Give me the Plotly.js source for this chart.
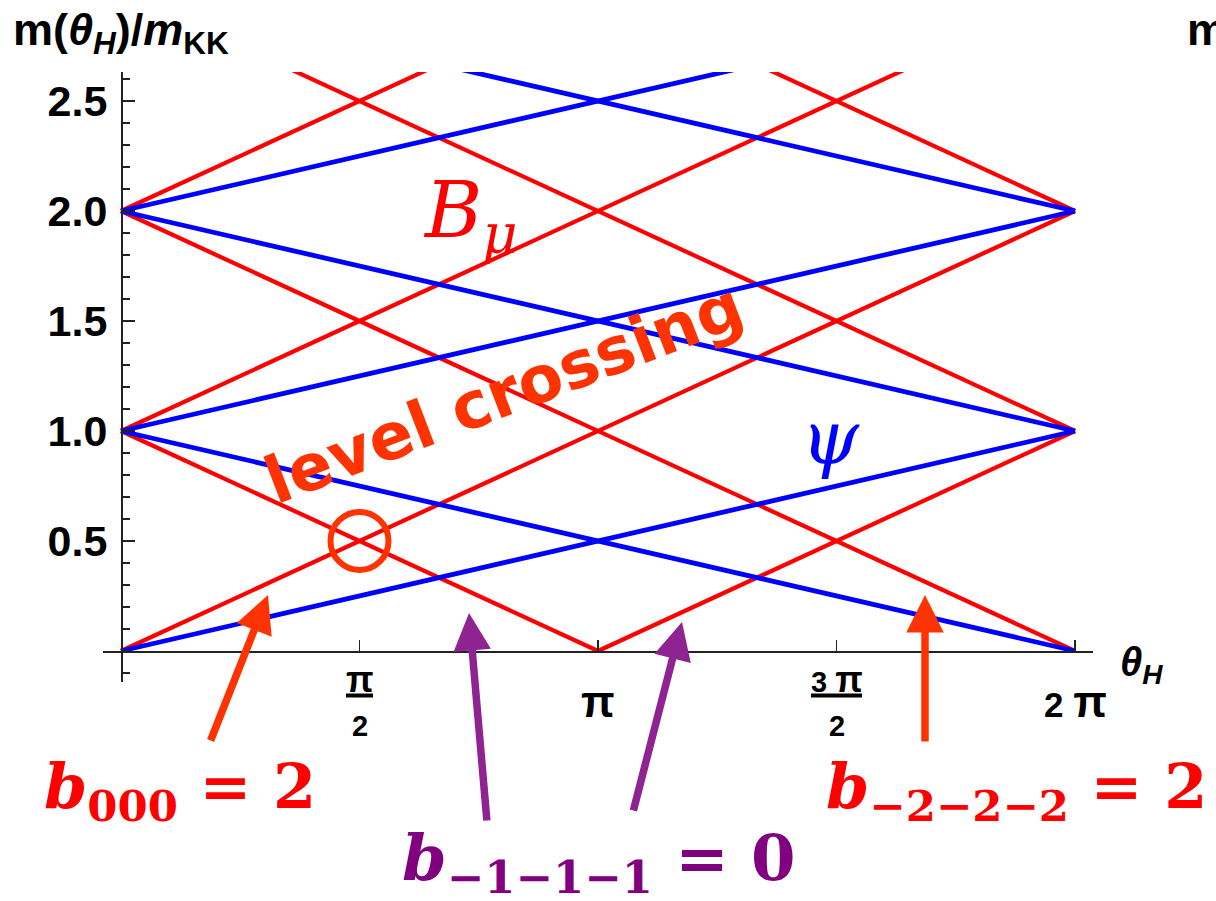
<!DOCTYPE html>
<html><head><meta charset="utf-8">
<script src="https://cdn.plot.ly/plotly-3.0.1.min.js"></script>
<style>html,body{margin:0;padding:0;background:#fff}</style>
</head><body><div id="chart" style="width:1216px;height:901px"></div>
<script>
// θ_H expressed in units of π ; mass in units of m_KK
const redTheta0 = [0, 0, 1, 0, 0, 0, 0, 0];
const redTheta1 = [2, 1, 2, 2, 2, 2, 2, 2];
const redMass0  = [0, 1, 0, 2, 1, 3, 2, 4];
const redMass1  = [2, 0, 1, 0, 3, 1, 4, 2];

const blueTheta0 = [0, 0, 0, 0, 0, 0];
const blueTheta1 = [2, 2, 2, 2, 2, 2];
const blueMass0  = [0, 1, 1, 2, 2, 3];
const blueMass1  = [1, 0, 2, 1, 3, 2];

const xTickVals = [0.5, 1, 1.5, 2];
const xTickNum  = ['π', 'π', '3 π', '2 π'];
const xTickDen  = ['2', '', '2', ''];
const yTickVals = [0.5, 1, 1.5, 2, 2.5];
const yTickText = ['0.5', '1.0', '1.5', '2.0', '2.5'];

function segs(x0, x1, y0, y1) {
  const xs = [], ys = [];
  for (let i = 0; i < x0.length; i++) { xs.push(x0[i], x1[i], null); ys.push(y0[i], y1[i], null); }
  return {x: xs, y: ys};
}
const R = segs(redTheta0, redTheta1, redMass0, redMass1);
const B = segs(blueTheta0, blueTheta1, blueMass0, blueMass1);

const traces = [
  {type: 'scatter', mode: 'lines', x: R.x, y: R.y, line: {color: '#ff0000', width: 4.2}, hoverinfo: 'skip', showlegend: false},
  {type: 'scatter', mode: 'lines', x: B.x, y: B.y, line: {color: '#0000ff', width: 4.8}, hoverinfo: 'skip', showlegend: false}
];

// plot area in pixels: left 103, right 1093, top 72, bottom 682
const L = 103, W = 990, T = 72, H = 610;
const PX = p => (p - L) / W;
const PY = p => (T + H - p) / H;

const xr = [-0.0377, 2.0377];
const yr = [-0.141, 2.632];

const sansB = {family: 'Liberation Sans, Arial, sans-serif', color: '#000', weight: 'bold'};
const ann = [];
const shapes = [];

function piBig(s, size) {
  return s.replace('π', '<span style="font-size:' + size + 'px">π</span>');
}

// x tick labels
xTickVals.forEach((v, i) => {
  const xp = PX(121 + v * 477);
  if (xTickDen[i]) {
    ann.push({xref: 'paper', yref: 'paper', x: xp, y: PY(679), xanchor: 'center', yanchor: 'middle',
      text: '<b>' + piBig(xTickNum[i], 36) + '</b>', showarrow: false, font: Object.assign({}, sansB, {size: 29})});
    ann.push({xref: 'paper', yref: 'paper', x: xp, y: PY(726), xanchor: 'center', yanchor: 'middle',
      text: '<b>' + xTickDen[i] + '</b>', showarrow: false, font: Object.assign({}, sansB, {size: 29})});
    const hw = xTickNum[i].length > 1 ? 25.5 : 13.5;
    shapes.push({type: 'line', xref: 'paper', yref: 'paper', x0: xp - hw / W, x1: xp + hw / W, y0: PY(695.5), y1: PY(695.5),
      line: {color: '#000', width: 4}});
  } else {
    ann.push({xref: 'paper', yref: 'paper', x: xp, y: PY(701), xanchor: 'center', yanchor: 'middle',
      text: '<b>' + piBig(xTickNum[i], 44) + '</b>', showarrow: false, font: Object.assign({}, sansB, {size: 35})});
  }
});

// axis titles
ann.push({xref: 'paper', yref: 'paper', x: PX(11), y: PY(33), xanchor: 'left', yanchor: 'middle',
  text: '<b>m(<i>θ</i><sub><i>H</i></sub>)/<i>m</i><sub>KK</sub></b>', showarrow: false,
  font: Object.assign({}, sansB, {size: 45})});
ann.push({xref: 'paper', yref: 'paper', x: PX(1185), y: PY(30), xanchor: 'left', yanchor: 'middle',
  text: '<b>m</b>', showarrow: false, font: Object.assign({}, sansB, {size: 45})});
ann.push({xref: 'paper', yref: 'paper', x: PX(1118), y: PY(665), xanchor: 'left', yanchor: 'middle',
  text: '<b><i>θ</i><sub><i>H</i></sub></b>', showarrow: false, font: Object.assign({}, sansB, {size: 40})});

// labels in plot
ann.push({xref: 'paper', yref: 'paper', x: PX(470), y: PY(216), xanchor: 'center', yanchor: 'middle',
  text: '<i>B</i><sub><i>μ</i></sub>', showarrow: false,
  font: {family: 'DejaVu Serif, serif', size: 78, color: '#ff0000'}});
ann.push({xref: 'paper', yref: 'paper', x: PX(830), y: PY(437), xanchor: 'center', yanchor: 'middle',
  text: '<i>ψ</i>', showarrow: false,
  font: {family: 'DejaVu Serif, serif', size: 74, color: '#0000ff'}});
ann.push({xref: 'paper', yref: 'paper', x: PX(503), y: PY(393), xanchor: 'center', yanchor: 'middle',
  text: 'level crossing', textangle: -21, showarrow: false,
  font: {family: 'Comic Sans MS, DejaVu Sans, sans-serif', size: 65, color: '#ff3300', weight: 'bold'}});

// b labels
const serifB = {family: 'DejaVu Serif, serif', size: 62, weight: 'bold'};
ann.push({xref: 'paper', yref: 'paper', x: PX(180), y: PY(790), xanchor: 'center', yanchor: 'middle',
  text: '<i>b</i><sub>000</sub> = 2', showarrow: false, font: Object.assign({}, serifB, {color: '#ff0000'})});
ann.push({xref: 'paper', yref: 'paper', x: PX(599), y: PY(862), xanchor: 'center', yanchor: 'middle',
  text: '<i>b</i><sub>−1−1−1</sub> = 0', showarrow: false, font: Object.assign({}, serifB, {size: 64, color: '#800080'})});
ann.push({xref: 'paper', yref: 'paper', x: PX(1016), y: PY(790), xanchor: 'center', yanchor: 'middle',
  text: '<i>b</i><sub>−2−2−2</sub> = 2', showarrow: false, font: Object.assign({}, serifB, {color: '#ff0000'})});

// arrows (tip in plot, tail offset in pixels)
const arrowDefs = [
  {tip: [268, 595], tail: [210, 742], color: '#ff3300'},
  {tip: [469, 613], tail: [487, 822], color: '#8e2391'},
  {tip: [682, 622], tail: [633, 812], color: '#8e2391'},
  {tip: [925, 595], tail: [925, 743], color: '#ff3300'}
];
arrowDefs.forEach(a => {
  ann.push({xref: 'paper', yref: 'paper', x: PX(a.tip[0]), y: PY(a.tip[1]), text: '', showarrow: true,
    ax: a.tail[0] - a.tip[0], ay: a.tail[1] - a.tip[1], arrowhead: 2, arrowsize: 1.0, arrowwidth: 7.5,
    arrowcolor: a.color, standoff: 0});
});

// level-crossing circle
shapes.push({type: 'circle', xref: 'x', yref: 'y', xsizemode: 'pixel', ysizemode: 'pixel',
  xanchor: 0.5, yanchor: 0.5, x0: -29, x1: 29, y0: -29, y1: 29, line: {color: '#ff3300', width: 6}});

const layout = {
  width: 1216, height: 901,
  margin: {l: L, r: 1216 - L - W, t: T, b: 901 - T - H, pad: 0},
  paper_bgcolor: '#fff', plot_bgcolor: '#fff',
  showlegend: false,
  xaxis: {range: xr, anchor: 'free', position: (0 - yr[0]) / (yr[1] - yr[0]),
    showline: true, linecolor: '#222', linewidth: 1.6, ticks: 'inside', ticklen: 11, tickwidth: 1.3, tickcolor: '#222',
    tickmode: 'array', tickvals: xTickVals, showticklabels: false, showgrid: false, zeroline: false, fixedrange: true},
  yaxis: {range: yr, anchor: 'free', position: (0 - xr[0]) / (xr[1] - xr[0]),
    showline: true, linecolor: '#222', linewidth: 1.6, ticks: 'inside', ticklen: 12, tickwidth: 1.3, tickcolor: '#222',
    tickmode: 'array', tickvals: yTickVals, ticktext: yTickText, ticklabelstandoff: 5,
    tickfont: {family: 'Liberation Sans, Arial, sans-serif', size: 43, color: '#000', weight: 'bold'},
    minor: {ticks: 'inside', ticklen: 7, tickwidth: 1.3, tickcolor: '#222', tickmode: 'linear', tick0: 0, dtick: 0.1, showgrid: false},
    showgrid: false, zeroline: false, fixedrange: true},
  annotations: ann,
  shapes: shapes
};

Plotly.newPlot('chart', traces, layout, {displayModeBar: false, staticPlot: true});
</script>
</body></html>
